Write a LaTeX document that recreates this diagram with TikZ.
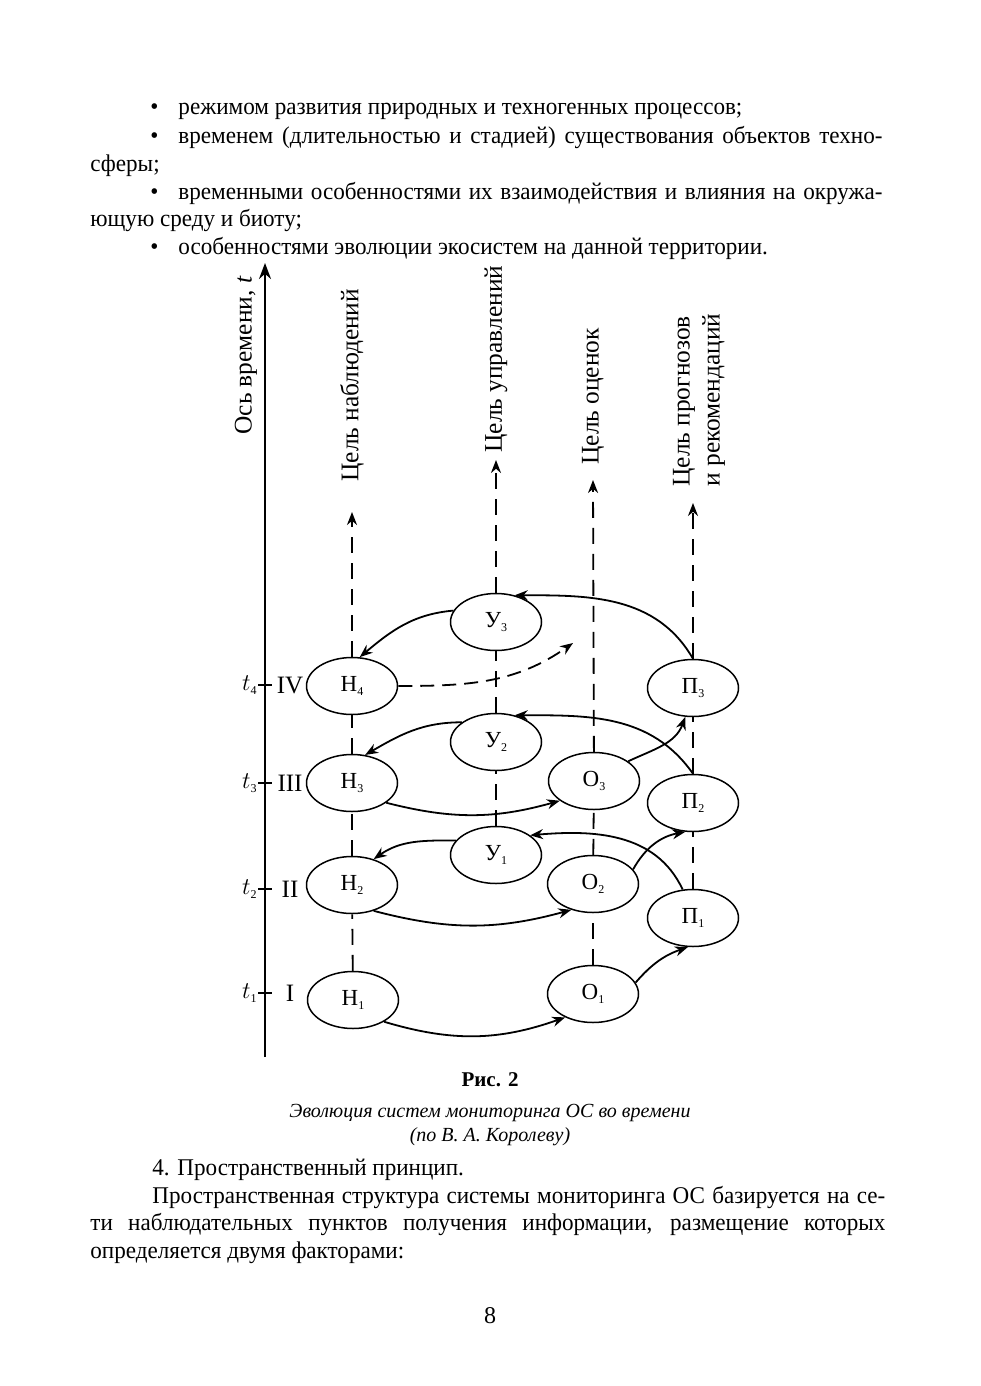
\documentclass[tikz,border=0pt]{standalone}
\usepackage{fontspec}
\setmainfont{Liberation Serif}
\newfontfamily\bodyfont{Liberation Serif}[FakeStretch=0.963]
\usetikzlibrary{shapes.geometric,arrows.meta}
\newcommand{\sbs}[1]{\raisebox{-2.2pt}{\fontsize{6}{6}\selectfont #1}}
\begin{document}
\begin{tikzpicture}[x=0.5pt,y=0.5pt,
  st/.style={draw,ellipse,line width=0.75pt,minimum width=45.5pt,minimum height=28.5pt,inner sep=0pt,font=\fontsize{11.5}{14}\selectfont,fill=white},
  arr/.style={-{Stealth[length=6.5pt,width=5pt]},line width=0.9pt},
  dsh/.style={line width=0.9pt,dash pattern=on 8pt off 5pt},
  body/.style={anchor=base west,inner sep=0pt,font=\fontsize{12}{14}\bodyfont},
  captxt/.style={anchor=base,inner sep=0pt,font=\fontsize{10}{12}\selectfont\itshape},
  lbl/.style={rotate=90,anchor=west,inner sep=0pt,font=\fontsize{12.7}{15}\selectfont,align=left},
  tk/.style={line width=0.8pt},
]
\useasboundingbox (0,0) rectangle (980,-1386);
% ---- body text top
\node[body] (b1) at (150,-115) {•\hspace{10pt}режимом развития природных и техногенных процессов;};
\node[body] (b2) at (150,-143) {•\hspace{10pt}\makebox[352pt][s]{временем (длительностью и стадией) существования объектов техно-}};
\node[body] (b3) at (90,-171) {сферы;};
\node[body] (b4) at (150,-199) {•\hspace{10pt}\makebox[352pt][s]{временными особенностями их взаимодействия и влияния на окружа-}};
\node[body] (b5) at (90,-226) {ющую среду и биоту;};
\node[body] (b6) at (150,-254) {•\hspace{10pt}особенностями эволюции экосистем на данной территории.};
% ---- time axis
\coordinate (ax0) at (265,-1057);
\coordinate (ax1) at (265,-263);
\draw[line width=1pt,-{Stealth[length=8pt,width=6pt]}] (ax0) -- (ax1);
\node[lbl] (axl) at (246,-435) {Ось времени, \textit{t}};
\foreach \yy/\ii/\rr in {993/1/I,889/2/II,783/3/III,685/4/IV}{
  \draw[tk] (258,-\yy) -- (272,-\yy);
  \node[anchor=east,inner sep=1pt,font=\fontsize{12}{14}\selectfont] at (259,-\yy) {$t$\sbs{\ii}};
  \node[anchor=center,inner sep=0pt,font=\fontsize{12.5}{14}\selectfont] at (290,-\yy) {\rr};
}
% ---- nodes
\node[st] (H1) at (353,-1000) {Н\sbs{1}};
\node[st] (H2) at (352,-885) {Н\sbs{2}};
\node[st] (H3) at (352,-783) {Н\sbs{3}};
\node[st] (H4) at (352,-686) {Н\sbs{4}};
\node[st] (U1) at (496,-855) {У\sbs{1}};
\node[st] (U2) at (496,-742) {У\sbs{2}};
\node[st] (U3) at (496,-622) {У\sbs{3}};
\node[st] (O1) at (593,-994) {О\sbs{1}};
\node[st] (O2) at (593,-884) {О\sbs{2}};
\node[st] (O3) at (594,-781) {О\sbs{3}};
\node[st] (P1) at (693,-918) {П\sbs{1}};
\node[st] (P2) at (693,-803) {П\sbs{2}};
\node[st] (P3) at (693,-688) {П\sbs{3}};
% ---- goal coordinates
\coordinate (gH) at (352,-512);
\coordinate (gU) at (496,-460);
\coordinate (gO) at (593,-480);
\coordinate (gP) at (693,-503);
% ---- vertical dashed lines
\draw[dsh] (H1) -- (H2);
\draw[dsh] (H2) -- (H3);
\draw[dsh] (H3) -- (H4);
\draw[dsh,arr] (H4) -- (gH);
\draw[dsh] (U1) -- (U2);
\draw[dsh] (U2) -- (U3);
\draw[dsh,arr] (U3) -- (gU);
\draw[dsh] (O1) -- (O2);
\draw[dsh] (O2) -- (O3);
\draw[dsh,arr] (O3) -- (gO);
\draw[dsh] (P1) -- (P2);
\draw[dsh] (P2) -- (P3);
\draw[dsh,arr] (P3) -- (gP);
% ---- goal labels
\node[lbl] (lH) at (352,-482) {Цель наблюдений};
\node[lbl] (lU) at (496,-453) {Цель управлений};
\node[lbl] (lO) at (593,-465) {Цель оценок};
\node[lbl] (lP) at (699,-487) {Цель прогнозов\\и рекомендаций};
% ---- curved arrows
\draw[arr] (H1.-35) to[bend right=18] (O1.-140);
\draw[arr] (O1.15) to[bend left=15] (P1.-100);
\draw[arr] (H2.-50) to[bend right=15] (O2.-130);
\draw[arr] (O2.20) to[bend left=25] (P2.-105);
\draw[arr] (P1.110) to[out=115,in=5] (U1.30);
\draw[arr] (U1.160) to[out=180,in=35] (H2.50);
\draw[arr] (H3.-30) to[bend right=15] (O3.-150);
\draw[arr] (O3.30) to[out=25,in=-110] (P3.-105);
\draw[arr] (P2.90) to[out=125,in=0] (U2.55);
\draw[arr] (U2.150) to[out=180,in=30] (H3.65);
\draw[arr] (P3.90) to[out=120,in=0] (U3.55);
\draw[arr] (U3.165) to[out=185,in=40] (H4.75);
\coordinate (dend) at (573,-643);
\draw[arr,dash pattern=on 7pt off 4pt] (H4.0) to[out=0,in=-145] (dend);
% ---- caption
\node[anchor=base,inner sep=0pt,font=\fontsize{10.5}{12}\selectfont\bfseries] (fig) at (490,-1086) {Рис. 2};
\node[captxt] (c1) at (490,-1117) {Эволюция систем мониторинга ОС во времени};
\node[captxt] (c2) at (490,-1141) {(по В. А. Королеву)};
% ---- body text bottom
\node[body] (d1) at (152,-1175) {4. Пространственный принцип.};
\node[body] (d2) at (152,-1203) {\makebox[366.5pt][s]{Пространственная структура системы мониторинга ОС базируется на се-}};
\node[body] (d3) at (90,-1230) {\makebox[397.5pt][s]{ти наблюдательных пунктов получения информации, размещение которых}};
\node[body] (d4) at (90,-1258) {определяется двумя факторами:};
\node[anchor=base,inner sep=0pt,font=\fontsize{12}{14}\selectfont] (pg) at (490,-1323) {8};
\end{tikzpicture}
\end{document}
